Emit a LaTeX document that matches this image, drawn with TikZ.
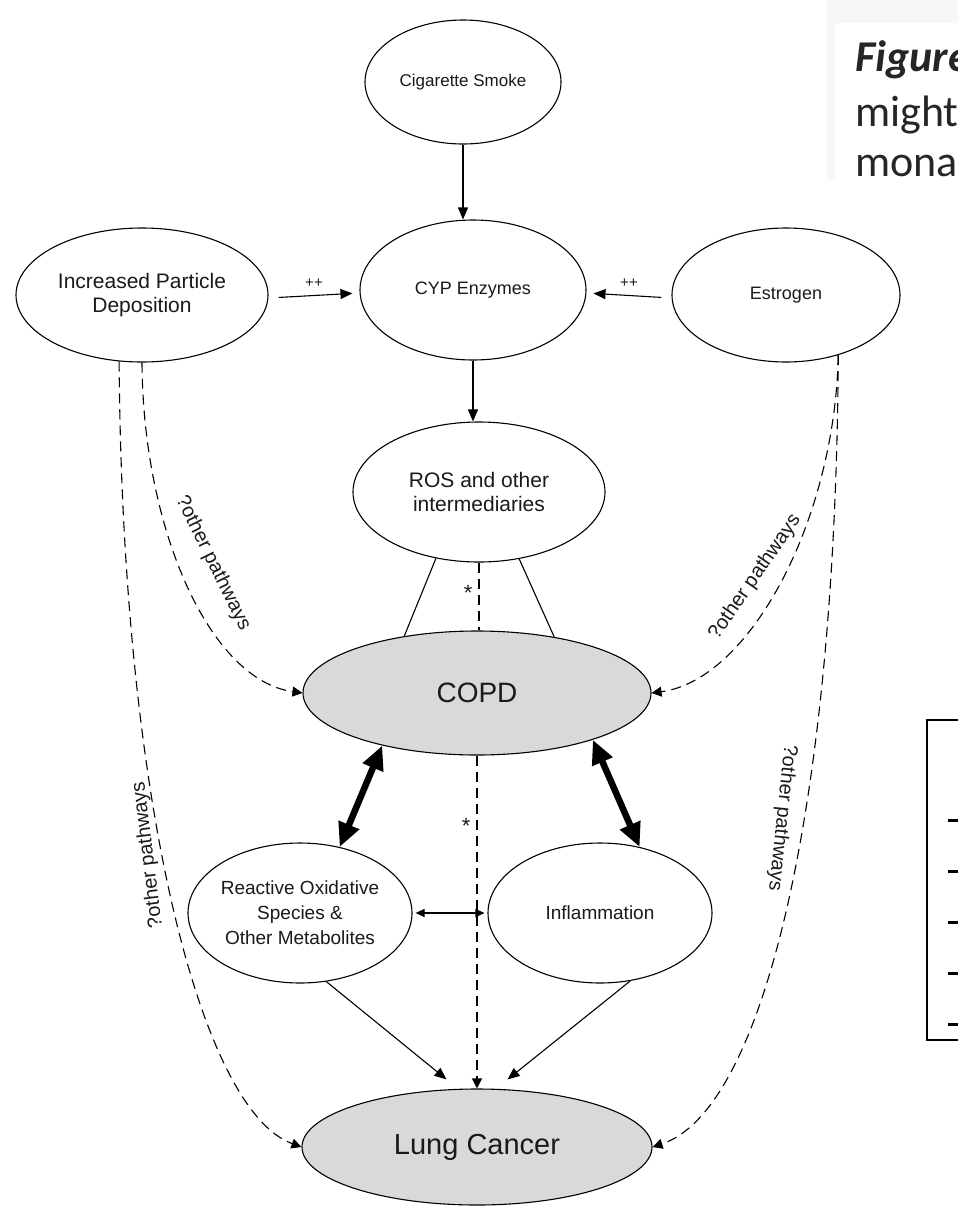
\documentclass[tikz,border=0pt]{standalone}
\usepackage{fontspec}
\setmainfont{Liberation Sans}
\newfontfamily\captionfont{Carlito}
\usetikzlibrary{shapes.geometric,arrows.meta}
\definecolor{copdgray}{HTML}{D9D9D9}
\definecolor{inkgray}{HTML}{1A1A1A}
\newcommand\fsz[2]{\fontsize{#1}{#2}\selectfont}

\begin{document}
\begin{tikzpicture}[x=1pt,y=-1pt,
  oval/.style={draw=black, line width=1.1pt, ellipse, fill=white, inner sep=0pt,
               align=center, text=inkgray},
  shaded/.style={oval, fill=copdgray},
  link/.style={line width=1.1pt, -{Triangle[length=12pt,width=10pt]}},
  maybe/.style={line width=1.1pt, dash pattern=on 10pt off 6pt,
                -{Triangle[length=10pt,width=10pt]}},
  plain/.style={line width=1.1pt},
  strong/.style={line width=6.5pt,
                 {Triangle[length=24pt,width=21pt]}-{Triangle[length=24pt,width=21pt]}},
  pathlabel/.style={font=\fsz{20}{24}, text=inkgray, inner sep=0pt},
  signlabel/.style={font=\fsz{15}{18}, text=inkgray, inner sep=0pt},
  starlabel/.style={font=\fsz{22}{24}, text=inkgray, inner sep=0pt},
  caption/.style={anchor=base west, inner sep=0pt, text=black!85},
]
\useasboundingbox (0,0) rectangle (958,1208);

% caption fragment, top right
\fill[black!3] (827,0) rectangle (958,23);
\fill[black!3] (827,23) rectangle (835,180);
\node[caption, font=\captionfont\bfseries\itshape\fsz{44}{52}] (capA) at (855,71) {Figure};
\node[caption, font=\captionfont\fsz{44}{52}] (capB) at (855,126) {might};
\node[caption, font=\captionfont\fsz{44}{52}] (capC) at (855,176) {mona};

% legend frame, right edge
\draw[line width=2pt] (970,720) -- (927,720) -- (927,1040) -- (970,1040);
\foreach \yy in {820,871,922,973,1024}
  \draw[line width=3pt] (948,\yy) -- (962,\yy);

% nodes
\node[oval, minimum width=196pt, minimum height=124pt, font=\fsz{17}{20}] (smoke) at (463,82) {Cigarette Smoke};
\node[oval, minimum width=226pt, minimum height=140pt, font=\fsz{18}{21}] (cyp) at (473,290) {CYP Enzymes};
\node[oval, minimum width=252pt, minimum height=134pt, font=\fsz{21}{24}] (dep) at (142,295) {Increased Particle\\Deposition};
\node[oval, minimum width=228pt, minimum height=134pt, font=\fsz{18}{21}] (estr) at (786,295) {Estrogen};
\node[oval, minimum width=252pt, minimum height=140pt, font=\fsz{21}{24}] (ros) at (479,492) {ROS and other\\intermediaries};
\node[shaded, minimum width=348pt, minimum height=124pt, font=\fsz{28}{32}] (copd) at (477,693) {COPD};
\node[oval, minimum width=224pt, minimum height=140pt, font=\fsz{19}{25}] (rox) at (300,913) {Reactive Oxidative\\Species \&\\Other Metabolites};
\node[oval, minimum width=224pt, minimum height=140pt, font=\fsz{19}{22}] (infl) at (600,913) {Inflammation};
\node[shaded, minimum width=350pt, minimum height=116pt, font=\fsz{29}{33}] (lc) at (477,1147) {Lung Cancer};

% upper chain
\draw[link] (smoke.south) -- (smoke.south |- cyp.north);
\draw[link, shorten <=10pt, shorten >=7pt] ([yshift=-3pt]dep.east) -- ([yshift=-3pt]cyp.west)
  node[signlabel, midway, above=7pt] (ppA) {++};
\draw[link, shorten <=10pt, shorten >=7pt] ([yshift=-3pt]estr.west) -- ([yshift=-3pt]cyp.east)
  node[signlabel, midway, above=7pt] (ppB) {++};
\draw[link] (cyp.south) -- (cyp.south |- ros.north);

% ROS to COPD
\draw[plain] (ros.237.5) -- (copd.142.9);
\draw[plain] (ros.301.8) -- (copd.36.7);
\draw[plain, dash pattern=on 10pt off 6pt] (ros.south) -- (ros.south |- copd.north)
  node[starlabel, pos=0.45, left=6pt] (starA) {*};

% COPD and its partners
\draw[strong] (copd.209) -- (rox.59.4);
\draw[strong] (copd.338.9) -- (infl.59.4);
\draw[line width=1.1pt, {Triangle[length=9pt,width=8pt]}-{Triangle[length=9pt,width=8pt]},
      shorten <=3pt, shorten >=3pt] (rox.east) -- (infl.west);

% into lung cancer
\draw[link, shorten >=15pt] (rox.291.7) -- (lc.108.2);
\draw[link, shorten >=15pt] (infl.294.5) -- (lc.72.8);
\draw[maybe] (copd.south) -- (lc.north)
  node[starlabel, pos=0.21, left=6pt] (starB) {*};

% other pathways
\draw[maybe] (dep.270) .. controls (143,530) and (210,680) .. (copd.west);
\draw[maybe] (dep.251) .. controls (122,800) and (200,1110) .. (lc.west);
\draw[maybe] (estr.311) .. controls (835,520) and (750,680) .. (copd.east);
\draw[maybe] (estr.311) .. controls (836,800) and (765,1110) .. (lc.east);

\node[pathlabel, rotate=-63.7] (lblA) at (213,563) {?other pathways};
\node[pathlabel, rotate=55.4] (lblB) at (755,577) {?other pathways};
\node[pathlabel, rotate=97] (lblC) at (148,855) {?other pathways};
\node[pathlabel, rotate=-96] (lblD) at (782,818) {?other pathways};
\end{tikzpicture}
\end{document}
